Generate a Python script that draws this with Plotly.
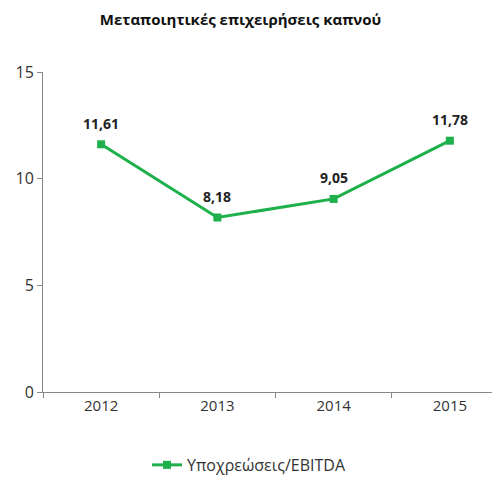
import plotly.graph_objects as go

years = ["2012", "2013", "2014", "2015"]
values = [11.61, 8.18, 9.05, 11.78]
labels = ["11,61", "8,18", "9,05", "11,78"]
y_ticks = [0, 5, 10, 15]

green = "#1db04b"
fig = go.Figure()
fig.add_trace(go.Scatter(
    x=years, y=values, mode="lines+markers",
    name="Υποχρεώσεις/EBITDA",
    line=dict(color=green, width=3),
    marker=dict(symbol="square", size=8, color=green),
))
for i, (yv, t) in enumerate(zip(values, labels)):
    fig.add_annotation(x=i, y=yv, xref="x", yref="y", text="<b>" + t + "</b>", showarrow=False,
                       yshift=21, font=dict(family="Open Sans", size=14, color="#222"))
fig.update_layout(
    width=500, height=496,
    margin=dict(l=35, r=0, t=64, b=112),
    paper_bgcolor="white", plot_bgcolor="white",
    title=dict(text="<b>Μεταποιητικές επιχειρήσεις καπνού</b>", x=0.465, xanchor="center",
               y=0.976, yanchor="middle",
               font=dict(family="Open Sans", size=15, color="#111")),
    font=dict(family="Open Sans", size=14, color="#333"),
    xaxis=dict(type="category", range=[-0.5, 3.5], showline=True, linecolor="#888", linewidth=1,
               ticks="outside", tickson="boundaries", ticklen=5, tickcolor="#888",
               showgrid=False, tickfont=dict(size=15, color="#333")),
    yaxis=dict(range=[0, 15], tickvals=y_ticks, showline=True, linecolor="#888", linewidth=1,
               ticks="outside", ticklen=5, tickcolor="#888", showgrid=False, zeroline=False,
               tickfont=dict(size=16, color="#333")),
    showlegend=True,
    legend=dict(orientation="h", x=0.443, xanchor="center", y=-0.228, yanchor="middle",
                font=dict(size=16, color="#333")),
)
fig.write_html("out.html")
